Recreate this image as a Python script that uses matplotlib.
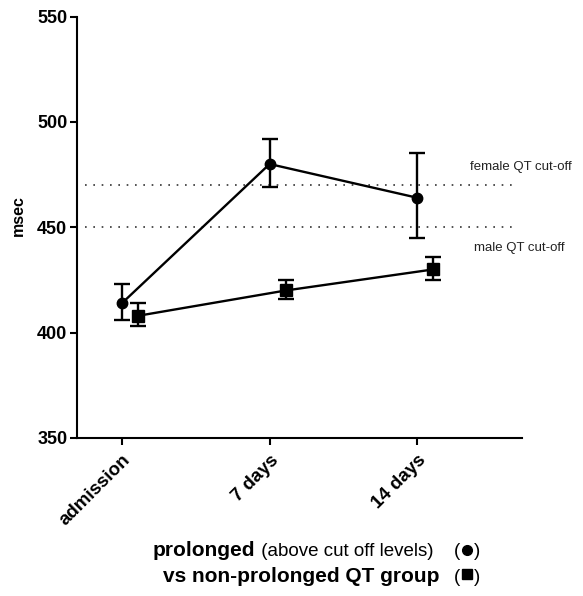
import matplotlib
matplotlib.use("Agg")
import matplotlib.pyplot as plt
from matplotlib.lines import Line2D
import numpy as np

plt.rcParams['font.family'] = ['Liberation Sans', 'DejaVu Sans']

categories = ["admission", "7 days", "14 days"]
prolonged_mean = [414, 480, 464]
prolonged_upper = [423, 492, 485]
prolonged_lower = [406, 469, 445]
nonprol_mean = [408, 420, 430]
nonprol_upper = [414, 425, 436]
nonprol_lower = [403, 416, 425]
cutoffs = [470, 450]
cutoff_labels = ["female QT cut-off", "male QT cut-off"]
yticks = [350, 400, 450, 500, 550]

W, H = 583, 596
fig = plt.figure(figsize=(W / 100, H / 100), dpi=100)
ax = fig.add_axes([77 / W, 1 - 438 / H, (522 - 77) / W, (438 - 16.5) / H])

x = np.arange(len(categories))
off = 0.11

pm = np.array(prolonged_mean)
nm = np.array(nonprol_mean)
ax.errorbar(x, pm, yerr=[pm - np.array(prolonged_lower), np.array(prolonged_upper) - pm],
            color='black', marker='o', markersize=7.5, linewidth=1.7, elinewidth=1.7,
            capsize=5.5, capthick=1.7, zorder=3)
ax.errorbar(x + off, nm, yerr=[nm - np.array(nonprol_lower), np.array(nonprol_upper) - nm],
            color='black', marker='s', markersize=8, linewidth=1.7, elinewidth=1.7,
            capsize=5.5, capthick=1.7, zorder=3)

for c in cutoffs:
    ax.plot([-0.25, 2.68], [c, c], color='#333333', linestyle=(0, (1, 4)), linewidth=1.2, zorder=1)

ax.set_xlim(-0.305, 2.71)
ax.set_ylim(350, 550)
ax.set_yticks(yticks)
ax.set_xticks(x)
ax.set_xticklabels(categories, rotation=45, ha='right', va='top', rotation_mode='anchor',
                   fontweight='bold', fontsize=13.5)
for lbl in ax.get_yticklabels():
    lbl.set_fontweight('bold')
    lbl.set_fontsize(13)
ax.tick_params(axis='both', direction='out', length=5, width=1.5, pad=2)
ax.tick_params(axis='x', pad=5)
for s in ['top', 'right']:
    ax.spines[s].set_visible(False)
for s in ['left', 'bottom']:
    ax.spines[s].set_linewidth(1.5)

fig.text(18 / W, 1 - 216 / H, "msec", rotation=90, ha='center', va='center',
         fontweight='bold', fontsize=11.5)

fig.text(470 / W, 1 - 167 / H, cutoff_labels[0], ha='left', va='center', fontsize=9.5, color='#222222')
fig.text(474 / W, 1 - 248 / H, cutoff_labels[1], ha='left', va='center', fontsize=9.5, color='#222222')

# Legend text block
fig.canvas.draw()
r = fig.canvas.get_renderer()
b1 = 1 - 556 / H
b2 = 1 - 582 / H
t1 = fig.text(153 / W, b1, "prolonged", fontweight='bold', fontsize=15, ha='left', va='baseline')
bb = t1.get_window_extent(r)
fig.text(bb.x1 / W, b1, " (above cut off levels)", fontsize=13.5, ha='left', va='baseline')
fig.text(163 / W, b2, "vs non-prolonged QT group", fontweight='bold', fontsize=15,
         ha='left', va='baseline')
for b, yc, mk, ms in [(b1, 550, 'o', 7), (b2, 574, 's', 7)]:
    fig.text(454 / W, b, "(", fontsize=13.5, ha='left', va='baseline')
    fig.text(474 / W, b, ")", fontsize=13.5, ha='left', va='baseline')
    fig.add_artist(Line2D([467 / W], [1 - yc / H], marker=mk, markersize=ms, color='black',
                          linestyle='none', transform=fig.transFigure))

fig.savefig("out.png", dpi=100)
